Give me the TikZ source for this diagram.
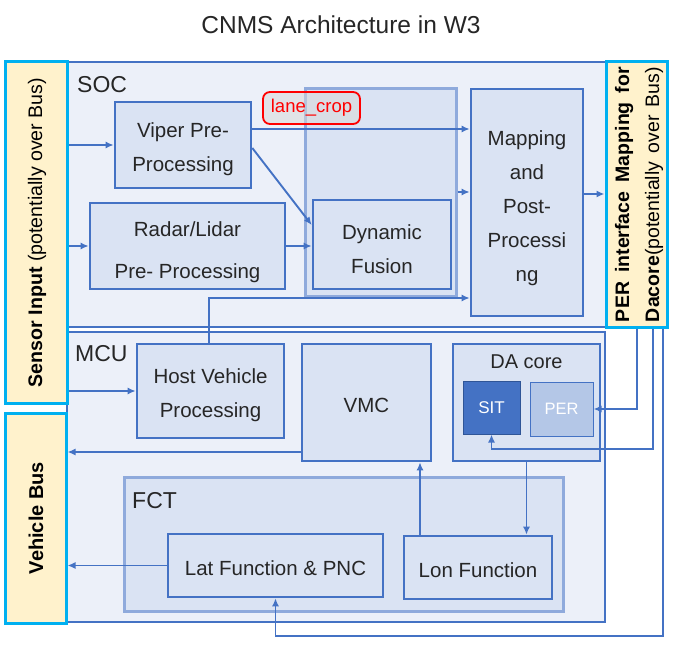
\documentclass[tikz,border=0pt]{standalone}
\usepackage{fontspec}
\setmainfont{Liberation Sans}
\usetikzlibrary{arrows.meta}
\definecolor{bd}{HTML}{4472C4}
\definecolor{bfill}{HTML}{DAE3F3}
\definecolor{cfill}{HTML}{ECF0F9}
\definecolor{lbd}{HTML}{8FAADC}
\definecolor{cyanbd}{HTML}{00B0F0}
\definecolor{yel}{HTML}{FFF2CC}
\definecolor{txt}{HTML}{262626}
\definecolor{perfill}{HTML}{B4C7E7}
\definecolor{sitbd}{HTML}{2F5597}
\tikzset{
  fs/.style={font=\fontsize{#1}{34}\selectfont},
  container/.style={draw=bd, fill=cfill, line width=2pt, inner sep=0pt},
  lightbox/.style={draw=lbd, fill=bfill, line width=3pt, inner sep=0pt},
  blk/.style={draw=bd, fill=bfill, line width=2.6pt, inner sep=0pt},
  btxt/.style={inner sep=0pt, align=center, text=txt, fs=20.5},
  ioblk/.style={draw=cyanbd, fill=yel, line width=3pt, inner sep=0pt},
  lbl/.style={anchor=base west, inner sep=0pt, text=txt, fs=23},
  arr/.style={draw=bd, line width=1.9pt, -{Latex[length=8pt,width=7pt]}},
}
\begin{document}
\begin{tikzpicture}[x=1pt,y=-1pt]
\useasboundingbox (0,0) rectangle (677,647);
\fill[white] (0,0) rectangle (677,647);
% title
\node[fs=24.5, text=txt] (title) at (341,25) {CNMS Architecture in W3};
% containers
\node[container, minimum width=539pt, minimum height=265pt] (soc) at (336.5,194.5) {};
\node[container, minimum width=538pt, minimum height=290pt] (mcu) at (336,477) {};
\node[lbl] (soclbl) at (77,93) {SOC};
\node[lbl] (mculbl) at (75,361) {MCU};
% SOC contents
\node[lightbox, minimum width=151pt, minimum height=207pt] (lcbox) at (380.5,192.5) {};
\node[blk, minimum width=136pt, minimum height=86pt] (viper) at (183,145) {};
\node[btxt] (viperT) at ([yshift=-4pt]viper.center) {Viper Pre-\\Processing};
\node[blk, minimum width=195pt, minimum height=86pt] (radar) at (187.5,246) {};
\node[btxt, font=\fontsize{20.5}{42}\selectfont] (radarT) at ([yshift=-6pt]radar.center) {Radar/Lidar\\Pre- Processing};
\node[blk, minimum width=138pt, minimum height=89pt] (dynfus) at (382,244.5) {};
\node[btxt] (dynfusT) at ([yshift=-4.5pt]dynfus.center) {Dynamic\\Fusion};
\node[blk, minimum width=112pt, minimum height=227pt] (mapping) at (527,202.5) {};
\node[btxt] (mappingT) at ([yshift=-5.5pt]mapping.center) {Mapping\\and\\Post-\\Processi\\ng};
% MCU contents
\node[blk, minimum width=147pt, minimum height=94pt] (host) at (210.5,391) {};
\node[btxt] (hostT) at ([yshift=-4pt]host.center) {Host Vehicle\\Processing};
\node[blk, minimum width=129pt, minimum height=117pt] (vmc) at (366.5,402.5) {};
\node[btxt] (vmcT) at ([yshift=-3pt]vmc.center) {VMC};
\node[blk, minimum width=147pt, minimum height=117pt] (dacore) at (526.5,402.5) {};
\node[anchor=base, inner sep=0pt, text=txt, fs=20] (dalbl) at (526.5,368) {DA core};
\node[draw=sitbd, fill=bd, line width=1pt, minimum width=57pt, minimum height=53pt, text=white, fs=17, inner sep=0pt] (sit) at (491.5,407.5) {SIT};
\node[draw=bd, fill=perfill, line width=1pt, minimum width=63pt, minimum height=54pt, text=white, fs=16.5, inner sep=0pt] (per) at (561.5,409) {PER};
\node[lightbox, minimum width=439pt, minimum height=134pt] (fct) at (343.5,544) {};
\node[lbl] (fctlbl) at (132,508) {FCT};
\node[blk, minimum width=215pt, minimum height=63pt] (lat) at (275.5,565.5) {};
\node[btxt] (latT) at ([yshift=-3pt]lat.center) {Lat Function \& PNC};
\node[blk, minimum width=148pt, minimum height=63pt] (lon) at (478,567.5) {};
\node[btxt] (lonT) at ([yshift=-2.5pt]lon.center) {Lon Function};
% side I/O boxes
\node[ioblk, minimum width=62pt, minimum height=341pt] (sensor) at (36,232.5) {};
\node[rotate=90, inner sep=0pt, text=black, fs=19.6] (sensortxt) at (37,232.5) {\textbf{Sensor Input} (potentially over Bus)};
\node[ioblk, minimum width=61pt, minimum height=210pt] (vbus) at (35.5,518) {};
\node[rotate=90, inner sep=0pt, text=black, fs=20] (vbustxt) at (36,518) {\textbf{Vehicle Bus}};
\node[ioblk, minimum width=61pt, minimum height=265pt] (pif) at (636.5,194.5) {};
\node[rotate=90, inner sep=0pt, text=black, fs=19.5] (piftxta) at (624,194.5) {\makebox[255pt][s]{\textbf{PER interface Mapping for}}};
\node[rotate=90, inner sep=0pt, text=black, fs=19.5] (piftxtb) at (654,194.5) {\makebox[255pt][s]{\textbf{Dacore}(potentially over Bus)}};
% connectors SOC
\draw[arr] (sensor.east |- viper.west) -- (viper.west);
\draw[arr] (sensor.east |- radar.west) -- (radar.west);
\draw[arr] (viper.east |- 0,129) -- (mapping.west |- 0,129);
\draw[arr] (viper.east |- 0,148) -- (dynfus.west |- 0,225);
\draw[arr] (radar.east) -- (dynfus.west |- radar.east);
\draw[arr] (lcbox.east |- 0,192) -- (mapping.west |- 0,192);
\draw[arr] (mapping.east |- 0,194) -- (pif.west |- 0,194);
\draw[arr] (host.north -| 209,0) -- (209,298) -- (mapping.west |- 0,298);
% connectors MCU
\draw[arr] (sensor.east |- host.west) -- (host.west);
\draw[arr] (vmc.west |- 0,452) -- (vbus.east |- 0,452);
\draw[arr] (lat.west) -- (vbus.east |- lat.west);
\draw[arr] (lon.north -| 420,0) -- (vmc.south -| 420,0);
\draw[arr] (dacore.south) -- (lon.north -| dacore.south);
\draw[arr] (pif.south -| 637,0) |- (per.east);
\draw[arr] (pif.south -| 653,0) |- (sit.south |- 0,449) -- (sit.south);
\draw[arr] (pif.south -| 663,0) |- (lat.south |- 0,636) -- (lat.south);
% lane_crop label
\node[draw=red, line width=1.8pt, rounded corners=7pt, fill=gray!30, fill opacity=0.55, text opacity=1, text=red, fs=18.5, minimum width=97pt, minimum height=32pt, inner sep=0pt] (lanecrop) at (311.5,108) {lane\_crop};
\end{tikzpicture}
\end{document}
